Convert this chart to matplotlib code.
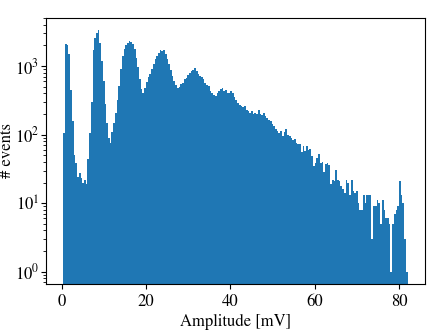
import numpy as np
import matplotlib
matplotlib.use("Agg")
import matplotlib.pyplot as plt

plt.rcParams['font.family'] = 'serif'
plt.rcParams['font.serif'] = ['STIXGeneral', 'DejaVu Serif']
plt.rcParams['mathtext.fontset'] = 'stix'

# histogram of pulse amplitudes, 200 bins from 0.4 mV to 82 mV
amp_lo = 0.4
amp_hi = 82.0
counts = [
    107, 2100, 2000, 1500, 450, 160, 50, 38, 24, 28,
    23, 20, 22, 19, 44, 107, 300, 1700, 2600, 3000,
    3400, 2200, 1200, 600, 280, 150, 90, 76, 110, 148,
    210, 320, 520, 900, 1400, 1750, 2050, 2200, 2350, 2280,
    2100, 1750, 1300, 980, 650, 470, 405, 480, 580, 700,
    780, 920, 1080, 1280, 1400, 1550, 1740, 1680, 1720, 1500,
    1280, 1080, 880, 720, 600, 530, 480, 500, 540, 560,
    640, 680, 730, 790, 840, 880, 930, 840, 780, 720,
    700, 640, 560, 530, 505, 430, 405, 380, 370, 400,
    430, 460, 480, 430, 450, 400, 410, 430, 400, 360,
    320, 290, 275, 260, 250, 262, 232, 220, 208, 225,
    197, 205, 198, 232, 198, 195, 205, 186, 175, 165,
    157, 145, 133, 119, 112, 105, 112, 95, 108, 119,
    100, 95, 90, 85, 86, 76, 72, 73, 55, 68,
    58, 68, 60, 61, 49, 35, 38, 46, 52, 39,
    40, 29, 37, 38, 36, 19, 22, 21, 31, 22,
    21, 18, 16, 14, 22, 20, 13, 22, 15, 14,
    15, 10, 8, 8, 13, 10, 13, 13, 13, 3,
    9, 9, 11, 10, 5, 11, 8, 6, 6, 5,
    1, 5, 7, 8, 9, 21, 13, 10, 3, 1,
]

edges = np.linspace(amp_lo, amp_hi, len(counts) + 1)
centers = 0.5 * (edges[:-1] + edges[1:])

fig = plt.figure(figsize=(4.43, 3.32), dpi=100)
ax = fig.add_axes([0.104, 0.145, 0.855, 0.802])
ax.hist(centers, bins=edges, weights=counts, log=True, color='#1f77b4')

ax.set_xlabel('Amplitude [mV]', fontsize=12, labelpad=3)
ax.set_ylabel('# events', fontsize=12)
ax.yaxis.set_label_coords(-0.082, 0.5)
ax.tick_params(labelsize=12)
ax.tick_params(axis='y', pad=1.5)
ax.set_xticks([0, 20, 40, 60, 80])

fig.savefig('out.png', dpi=100)
